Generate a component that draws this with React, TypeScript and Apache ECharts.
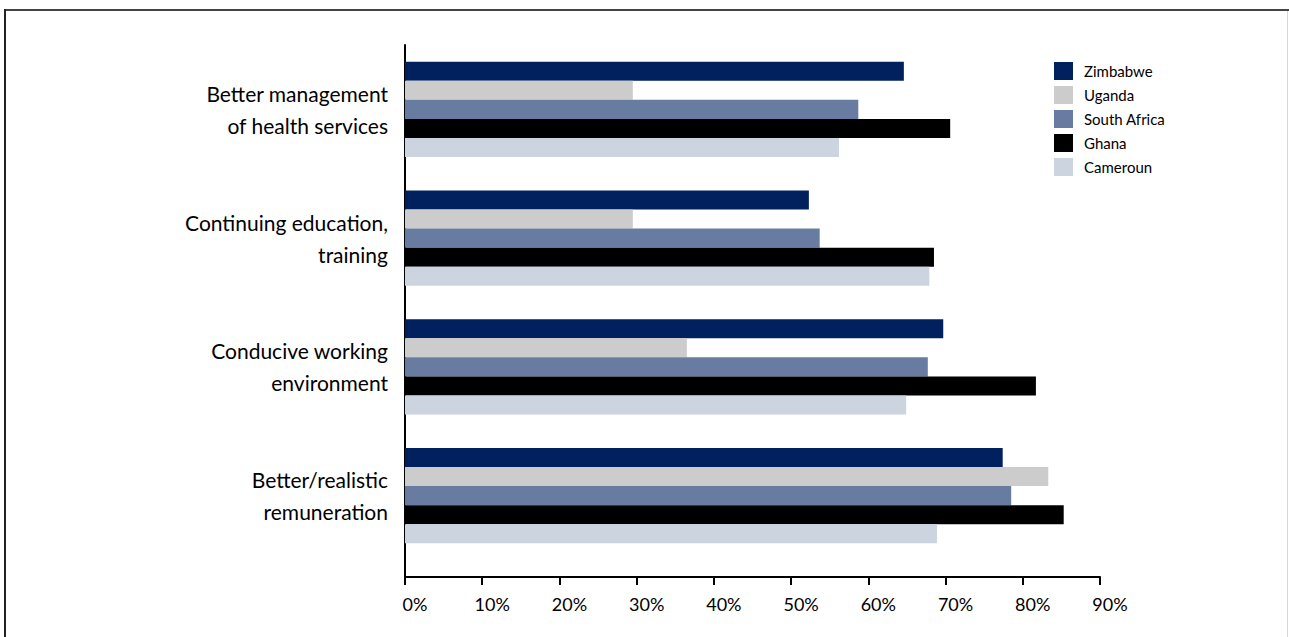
import React, { useEffect, useRef } from "react";
import * as echarts from "echarts";

const categories = [
  "Better management\nof health services",
  "Continuing education,\ntraining",
  "Conducive working\nenvironment",
  "Better/realistic\nremuneration",
];
const seriesNames = ["Zimbabwe", "Uganda", "South Africa", "Ghana", "Cameroun"];
const zimbabwe = [64.6, 52.3, 69.7, 77.4];
const uganda = [29.5, 29.5, 36.5, 83.3];
const southAfrica = [58.7, 53.7, 67.7, 78.5];
const ghana = [70.6, 68.5, 81.7, 85.3];
const cameroun = [56.2, 67.9, 64.9, 68.9];
const xTicks = { min: 0, max: 90, interval: 10 };

const colors = ["#00215e", "#cccccc", "#687ba1", "#000000", "#ccd4e0"];
const FONT = "Lato";

export default function App() {
  const ref = useRef<HTMLDivElement>(null);
  useEffect(() => {
    const chart = echarts.init(ref.current!, null, { renderer: "svg" });
    const data = [zimbabwe, uganda, southAfrica, ghana, cameroun];
    chart.setOption({
      animation: false,
      grid: { left: 405, right: 189, top: 45, height: 515, containLabel: false },
      legend: {
        orient: "vertical",
        left: 1054,
        top: 62,
        itemWidth: 19,
        itemHeight: 18,
        itemGap: 6,
        padding: 0,
        icon: "rect",
        data: seriesNames,
        textStyle: { fontFamily: FONT, fontSize: 15, color: "#000", padding: [0, 0, 0, 6] },
      },
      xAxis: {
        type: "value",
        min: xTicks.min,
        max: xTicks.max,
        interval: xTicks.interval,
        offset: 17,
        axisLine: { show: true, lineStyle: { color: "#000", width: 2 } },
        axisTick: { show: true, length: 8, lineStyle: { color: "#000", width: 2 } },
        splitLine: { show: false },
        axisLabel: {
          formatter: "{value}%",
          fontFamily: FONT,
          fontSize: 18,
          color: "#000",
          margin: 18,
          padding: [0, 0, 0, 20],
        },
      },
      yAxis: {
        type: "category",
        inverse: true,
        data: categories,
        axisLine: { show: true, lineStyle: { color: "#000", width: 2 } },
        axisTick: { show: false },
        axisLabel: {
          fontFamily: FONT,
          fontSize: 21,
          lineHeight: 32,
          color: "#000",
          align: "right",
          margin: 17,
          padding: [0, 0, 8, 0],
        },
      },
      series: seriesNames.map((name, i) => ({
        name,
        type: "bar",
        data: data[i],
        barGap: "0%",
        barCategoryGap: "26%",
        itemStyle: { color: colors[i] },
      })),
      graphic: [
        { type: "line", shape: { x1: 405, y1: 559, x2: 405, y2: 578 }, style: { stroke: "#000", lineWidth: 2 } },
        { type: "line", shape: { x1: 4, y1: 10, x2: 1289, y2: 10 }, style: { stroke: "#444", lineWidth: 2 } },
        { type: "line", shape: { x1: 5, y1: 9, x2: 5, y2: 637 }, style: { stroke: "#222", lineWidth: 2 } },
        { type: "line", shape: { x1: 1287.5, y1: 11, x2: 1287.5, y2: 637 }, style: { stroke: "#d8d8d8", lineWidth: 1 } },
      ],
    });
    return () => chart.dispose();
  }, []);
  return (
    <div
      ref={ref}
      style={{ position: "absolute", left: 0, top: 0, width: 1289, height: 637, background: "#fff" }}
    />
  );
}
